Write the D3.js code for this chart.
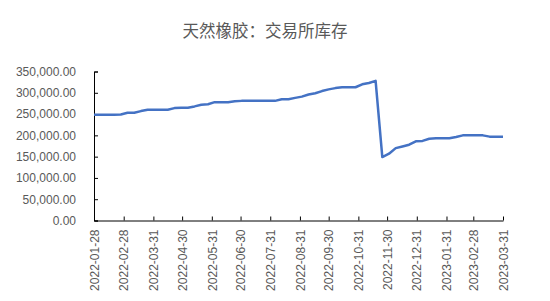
<!DOCTYPE html>
<html>
<head>
<meta charset="utf-8">
<script src="https://cdn.jsdelivr.net/npm/d3@7"></script>
<style>
  html, body { margin: 0; padding: 0; background: #fff; }
  svg { display: block; }
  .title { font-family: "Noto Sans CJK SC", sans-serif; font-size: 16.5px; fill: #595959; }
  .axis text { font-family: "Liberation Sans", Arial, sans-serif; font-size: 12px; fill: #595959; }
  .axis path, .axis line { stroke: #000; }
</style>
</head>
<body>
<div id="chart"></div>
<script>
/* 天然橡胶：交易所库存 — weekly line */

const TITLE = "天然橡胶：交易所库存";

// weekly observations (Fridays)
const START_DATE = "2022-01-28";
const INVENTORY = [
  248500, 248500, 248500, 248500, 249000, 253000, 253000, 257000, 260000, 260000,
  260000, 260000, 264000, 265000, 265000, 268000, 272000, 273000, 278000, 278000,
  278000, 280000, 281000, 281000, 281000, 281000, 281000, 281000, 285000, 285000,
  288000, 291000, 296000, 299000, 304000, 308000, 311000, 313000, 313000, 313000,
  320000, 323000, 328000, 149000, 157000, 170000, 174000, 178000, 186000, 187000,
  192000, 193000, 193000, 193000, 196000, 200000, 200000, 200000, 200000, 197000,
  197000, 197000,
];

const X_TICKS = [
  "2022-01-28", "2022-02-28", "2022-03-31", "2022-04-30", "2022-05-31", "2022-06-30",
  "2022-07-31", "2022-08-31", "2022-09-30", "2022-10-31", "2022-11-30", "2022-12-31",
  "2023-01-31", "2023-02-28", "2023-03-31",
];
const Y_TICKS = [0, 50000, 100000, 150000, 200000, 250000, 300000, 350000];

const W = 550, H = 301;
const parse = d3.utcParse("%Y-%m-%d");
const fmtDate = d3.utcFormat("%Y-%m-%d");

const start = parse(START_DATE);
const series = INVENTORY.map((v, i) => ({ date: d3.utcDay.offset(start, i * 7), value: v }));

const svg = d3.select("#chart").append("svg").attr("width", W).attr("height", H);

const x = d3.scaleUtc()
  .domain([parse(X_TICKS[0]), parse(X_TICKS[X_TICKS.length - 1])])
  .range([94, 503]);

const y = d3.scaleLinear()
  .domain([0, 350000])
  .range([220.5, 71.5]);

svg.append("text")
  .attr("class", "title")
  .attr("x", 265)
  .attr("y", 37)
  .attr("text-anchor", "middle")
  .text(TITLE);

// y axis (ticks point inward)
svg.append("g")
  .attr("class", "axis")
  .attr("transform", "translate(94,0)")
  .call(d3.axisLeft(y).tickValues(Y_TICKS).tickFormat(d3.format(",.2f")).tickSizeInner(-4).tickSizeOuter(-4).tickPadding(18));

// x axis
const xAxis = svg.append("g")
  .attr("class", "axis")
  .attr("transform", "translate(0,220.5)")
  .call(d3.axisBottom(x).tickValues(X_TICKS.map(parse)).tickFormat(fmtDate).tickSizeInner(-4).tickSizeOuter(0));

xAxis.selectAll("text")
  .attr("transform", "rotate(-90)")
  .attr("text-anchor", "end")
  .attr("x", -9)
  .attr("y", 0)
  .attr("dy", "0.35em");

const line = d3.line()
  .x(d => x(d.date))
  .y(d => y(d.value));

svg.append("path")
  .datum(series)
  .attr("fill", "none")
  .attr("stroke", "#4472C4")
  .attr("stroke-width", 2.5)
  .attr("stroke-linejoin", "round")
  .attr("d", line);
</script>
</body>
</html>
